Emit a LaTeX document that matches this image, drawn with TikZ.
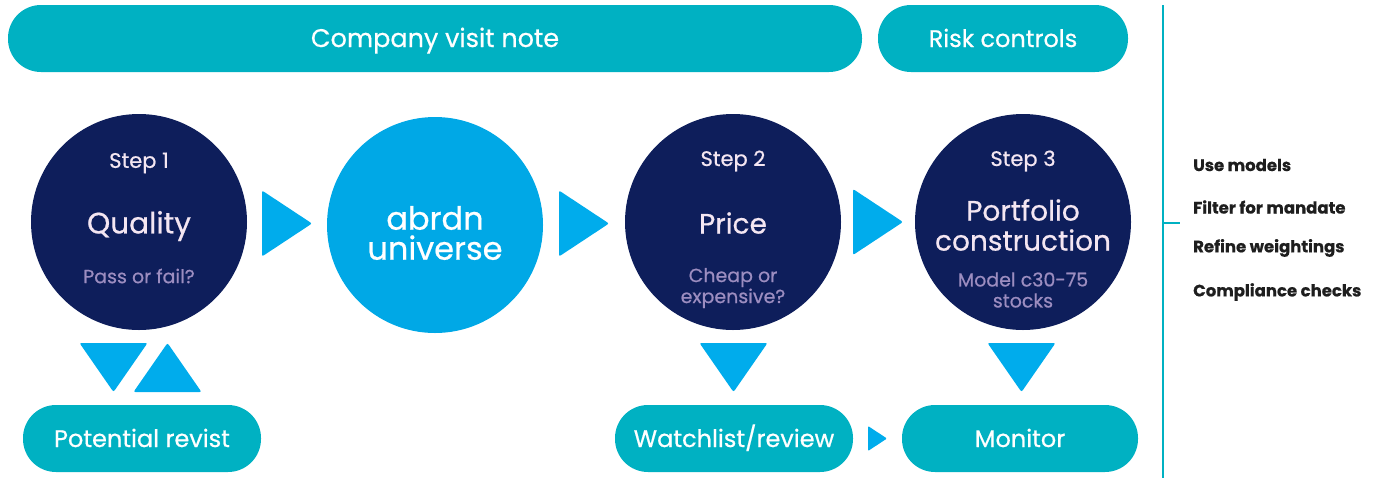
\documentclass[tikz,border=0pt]{standalone}
\usepackage{fontspec}
\setmainfont{Poppins}[FakeBold=0.6]
\usetikzlibrary{calc}
\definecolor{barteal}{HTML}{00B1C2}
\definecolor{navy}{HTML}{0E1E5B}
\definecolor{skyblue}{HTML}{00A8E6}
\definecolor{arrblue}{HTML}{00ACEC}
\definecolor{softpink}{HTML}{F4E6F2}
\definecolor{lavender}{HTML}{9C8DC0}
\definecolor{listgrey}{HTML}{1E1E1E}
\tikzset{
  pill/.style={rectangle, rounded corners=33pt, fill=barteal, text=white,
    minimum height=67pt, inner sep=0pt, text height=17pt, text depth=0pt,
    font=\fontsize{24}{28}\selectfont},
  stepcircle/.style={circle, fill=navy, minimum size=216pt, inner sep=0pt},
  steptitle/.style={text=softpink, align=center, font=\fontsize{28}{30}\selectfont},
  steplabel/.style={text=softpink, font=\fontsize{21}{24}\selectfont},
  sublabel/.style={text=lavender, align=center, font=\fontsize{19}{21}\selectfont},
  arrowtri/.style={fill=arrblue, rounded corners=2pt},
  listitem/.style={anchor=west, text=listgrey, inner sep=0pt,
    font=\bfseries\fontsize{16.5}{18}\selectfont},
  sideline/.style={draw=barteal, line width=2pt},
  rtri/.pic={\fill[arrowtri] (-25,-33) -- (25,0) -- (-25,33) -- cycle;},
  dtri/.pic={\fill[arrowtri] (-34,-24.5) -- (34,-24.5) -- (0,24.5) -- cycle;},
  utri/.pic={\fill[arrowtri] (-34,24.5) -- (34,24.5) -- (0,-24.5) -- cycle;},
  stri/.pic={\fill[arrowtri, rounded corners=1pt] (-9.5,-12.5) -- (9.5,0) -- (-9.5,12.5) -- cycle;},
}
\begin{document}
\begin{tikzpicture}[x=1pt,y=-1pt]
  \useasboundingbox (0,0) rectangle (1373,491);
  % top bars
  \node (visit) [pill, minimum width=854pt, font=\fontsize{25.5}{28}\selectfont] at (435,38.5) {Company visit note};
  \node (risk) [pill, minimum width=250pt] at (1003,38.5) {Risk controls};
  % steps
  \node (quality) [stepcircle] at (139,222) {};
  \node (universe) [stepcircle, fill=skyblue] at (435,225) {};
  \node (price) [stepcircle] at (733,222) {};
  \node (build) [stepcircle] at (1023,222) {};
  \node [steplabel] at (139,163) {Step 1};
  \node [steptitle, font=\fontsize{29.5}{30}\selectfont] at (139,226) {Quality};
  \node [sublabel] at (139,276) {Pass or fail?};
  \node [steptitle, text=white, font=\fontsize{32}{30}\selectfont] at (435,233) {abrdn\\universe};
  \node [steplabel] at (733,161) {Step 2};
  \node [steptitle] at (733,223) {Price};
  \node [sublabel] at (733,288) {Cheap or\\expensive?};
  \node [steplabel] at (1023,161) {Step 3};
  \node [steptitle] at (1023,225) {Portfolio\\construction};
  \node [sublabel] at (1023,290) {Model c30-75\\stocks};
  % bottom bars
  \node (revisit) [pill, minimum width=238pt] at (142,438.5) {Potential revist};
  \node (watch) [pill, minimum width=238pt] at (734,438.5) {Watchlist/review};
  \node (monitor) [pill, minimum width=236pt] at (1020,438.5) {Monitor};
  % arrows
  \pic at ($(quality.east)!0.5!(universe.west)$) {rtri};
  \pic at ($(universe.east)!0.5!(price.west)$) {rtri};
  \pic at ($(price.east)!0.5!(build.west)$) {rtri};
  \pic at ($(quality.south)!0.5!(revisit.north)+(-27,0)$) {dtri};
  \pic at ($(quality.south)!0.5!(revisit.north)+(27,0)$) {utri};
  \pic at ($(price.south)!0.5!(watch.north)$) {dtri};
  \pic at ($(build.south)!0.5!(monitor.north)$) {dtri};
  \pic at ($(watch.east)!0.5!(monitor.west)$) {stri};
  % side list
  \coordinate (top) at (1163,5);
  \coordinate (bottom) at (1163,478);
  \coordinate (tick) at (1163,223);
  \draw [sideline] (top) -- (bottom);
  \draw [sideline] (tick) -- ++(17,0);
  \node [listitem] at (1193,165) {Use models};
  \node [listitem] at (1193,207) {Filter for mandate};
  \node [listitem] at (1193,248) {Refine weightings};
  \node [listitem] at (1193,292) {Compliance checks};
\end{tikzpicture}
\end{document}
